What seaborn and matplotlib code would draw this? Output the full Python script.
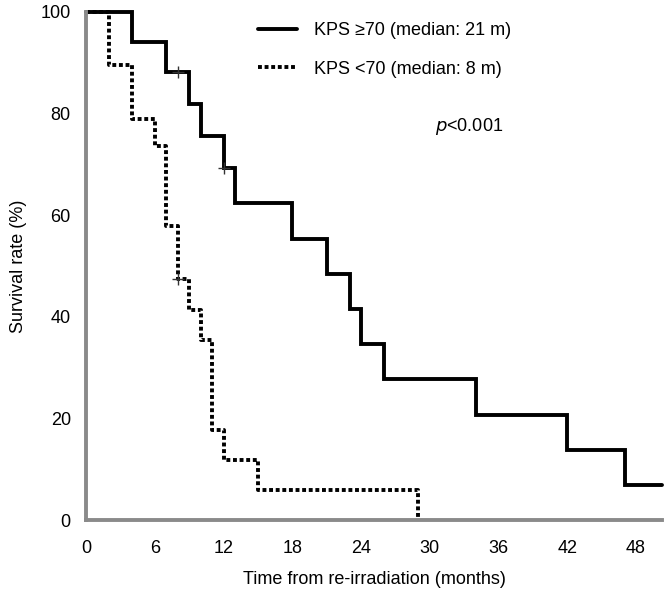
import pandas as pd
import seaborn as sns
import matplotlib.pyplot as plt
import numpy as np

sns.set_style('white')
plt.rcParams['font.family'] = ['Liberation Sans', 'DejaVu Sans']
plt.rcParams['text.color'] = 'black'
plt.rcParams['axes.labelcolor'] = 'black'
plt.rcParams['xtick.color'] = 'black'
plt.rcParams['ytick.color'] = 'black'

# Kaplan-Meier steps
time_hi = [0, 4, 7, 9, 10, 12, 13, 18, 21, 23, 24, 26, 34, 42, 47, 50.3]
surv_hi = [100, 94.1, 88.2, 81.9, 75.6, 69.3, 62.4, 55.4, 48.5, 41.6, 34.7, 27.7, 20.8, 13.9, 6.9, 6.9]
time_lo = [0, 2, 4, 6, 7, 8, 9, 10, 11, 12, 15, 29]
surv_lo = [100, 89.5, 78.9, 73.7, 57.9, 47.4, 41.4, 35.5, 17.8, 11.8, 5.9, 0]

# censored observations
cens_hi_t = [8, 12]
cens_hi_s = [88.2, 69.3]
cens_lo_t = [8]
cens_lo_s = [47.4]

label_hi = 'KPS \u226570 (median: 21 m)'
label_lo = 'KPS <70 (median: 8 m)'

df = pd.concat([
    pd.DataFrame({'time': time_hi, 'surv': surv_hi, 'group': label_hi}),
    pd.DataFrame({'time': time_lo, 'surv': surv_lo, 'group': label_lo}),
])

fig = plt.figure(figsize=(6.67, 5.98), dpi=100)
ax = fig.add_axes([0.129, 0.130, 0.864, 0.850])

sns.lineplot(data=df, x='time', y='surv', hue='group', style='group',
             palette={label_hi: 'black', label_lo: 'black'},
             dashes={label_hi: '', label_lo: (1, 0.7)},
             estimator=None, sort=False, drawstyle='steps-post',
             linewidth=2.8, ax=ax, clip_on=False)
for ln in ax.get_lines():
    ln.set_dash_capstyle('butt')
    ln.set_solid_joinstyle('miter')

ax.plot(cens_hi_t, cens_hi_s, ls='none', marker='+', ms=8, mew=1, color='#333333')
ax.plot(cens_lo_t, cens_lo_s, ls='none', marker='+', ms=8, mew=1, color='#333333')

ax.set_xlim(0, 50.3)
ax.set_ylim(0, 100)
ax.set_xticks(np.arange(0, 49, 6))
ax.set_yticks(np.arange(0, 101, 20))
ax.tick_params(axis='x', direction='out', length=5, width=1, color='#555555',
               labelsize=13, pad=9)
ax.tick_params(axis='y', direction='out', length=5, width=1, color='#555555',
               labelsize=13, pad=6)

for side in ['top', 'right']:
    ax.spines[side].set_visible(False)
for side in ['left', 'bottom']:
    ax.spines[side].set_color('#8a8a8a')
    ax.spines[side].set_linewidth(2.8)

ax.set_xlabel('Time from re-irradiation (months)', fontsize=13, labelpad=10)
ax.set_ylabel('Survival rate (%)', fontsize=13, labelpad=10)

leg = ax.legend(loc='upper left', bbox_to_anchor=(0.298, 0.98), frameon=False,
                fontsize=13, handlelength=2.2, handletextpad=0.9, labelspacing=1.2,
                borderpad=0, borderaxespad=0)
for h in leg.get_lines():
    h.set_linewidth(2.8)

ax.text(0.606, 0.774, r'$p$<0.001', transform=ax.transAxes, fontsize=13, va='center')

plt.savefig('out.png', dpi=100)
